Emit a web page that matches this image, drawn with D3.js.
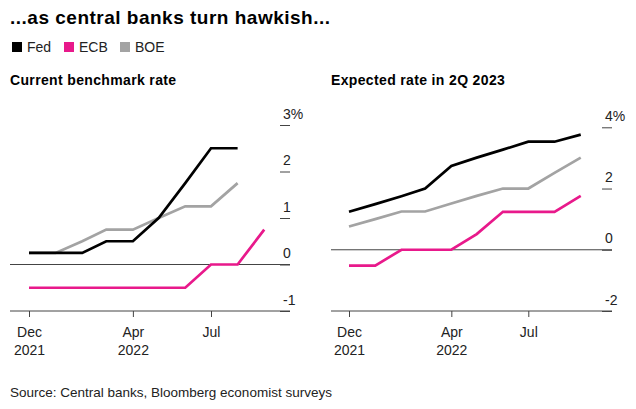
<!DOCTYPE html>
<html>
<head>
<meta charset="utf-8">
<script src="https://cdn.jsdelivr.net/npm/d3@7"></script>
<style>
  body { margin: 0; background: #fff; }
  svg { display: block; font-family: "Liberation Sans", Arial, Helvetica, sans-serif; }
  .axis text { font-size: 14px; fill: #222; }
  .axis line { stroke: #444; }
</style>
</head>
<body>
<svg id="chart" width="636" height="409"></svg>
<script>
// months Dec 2021 .. Sep 2022
var months = ['2021-12', '2022-01', '2022-02', '2022-03', '2022-04', '2022-05', '2022-06', '2022-07', '2022-08', '2022-09'];

var currentFed = [0.25, 0.25, 0.25, 0.5, 0.5, 1.0, 1.75, 2.5, 2.5];
var currentEcb = [-0.5, -0.5, -0.5, -0.5, -0.5, -0.5, -0.5, 0, 0, 0.75];
var currentBoe = [0.25, 0.25, 0.5, 0.75, 0.75, 1.0, 1.25, 1.25, 1.75];

var expectedFed = [1.24, 1.49, 1.75, 2.0, 2.74, 3.01, 3.27, 3.53, 3.53, 3.76];
var expectedEcb = [-0.52, -0.52, 0, 0, 0, 0.51, 1.24, 1.24, 1.24, 1.76];
var expectedBoe = [0.76, 1.0, 1.25, 1.25, 1.51, 1.76, 2.0, 2.0, 2.51, 3.01];

var xTicks = ['2021-12', '2022-04', '2022-07'];
var xTickLabels = [['Dec', '2021'], ['Apr', '2022'], ['Jul']];

var currentTicks = [3, 2, 1, 0, -1];
var currentTickLabels = ['3%', '2', '1', '0', '-1'];
var expectedTicks = [4, 2, 0, -2];
var expectedTickLabels = ['4%', '2', '0', '-2'];

var seriesNames = ['Fed', 'ECB', 'BOE'];
var colors = {Fed: '#000000', ECB: '#e8198b', BOE: '#a3a3a3'};

var parse = d3.timeParse('%Y-%m');
var svg = d3.select('#chart');

svg.append('text')
	.text('...as central banks turn hawkish...')
	.attr('x', 10)
	.attr('y', 24)
	.style('font-size', '19px')
	.style('font-weight', 700)
	.style('letter-spacing', '0.5px');

// legend
var lx = [12, 64, 120];
seriesNames.forEach(function(name, i) {
	svg.append('rect')
		.attr('x', lx[i])
		.attr('y', 42)
		.attr('width', 10)
		.attr('height', 10)
		.attr('fill', colors[name]);
	svg.append('text')
		.text(name)
		.attr('x', lx[i] + 15)
		.attr('y', 52)
		.style('font-size', '14px')
		.style('fill', '#222');
});

var makePanel = function(opts) {
	var g = svg.append('g');

	g.append('text')
		.text(opts.title)
		.attr('x', opts.left)
		.attr('y', 85)
		.style('font-size', '14px')
		.style('font-weight', 700)
		.style('letter-spacing', '0.35px');

	var xScale = d3.scaleTime()
		.domain([parse('2021-12'), parse('2022-07')])
		.range([opts.xDec, opts.xJul]);

	var yScale = d3.scaleLinear()
		.domain(opts.yDomain)
		.range([311, opts.yTop]);

	// y axis on the right, labels sitting above the ticks
	var yAxis = d3.axisRight(yScale)
		.tickValues(opts.yTicks)
		.tickSize(-10)
		.tickFormat(function(d, i) { return opts.yLabels[i]; });

	var ya = g.append('g')
		.attr('class', 'axis')
		.attr('transform', `translate(${opts.right}, 0)`)
		.call(yAxis);
	ya.select('.domain').remove();
	ya.selectAll('text')
		.attr('x', -7)
		.attr('dy', -7)
		.style('text-anchor', 'start');

	// zero line
	g.append('line')
		.attr('x1', opts.left)
		.attr('x2', opts.right)
		.attr('y1', yScale(0))
		.attr('y2', yScale(0))
		.attr('stroke', '#444')
		.attr('stroke-width', 1);

	// bottom axis
	var xAxis = d3.axisBottom(xScale)
		.tickValues(xTicks.map(parse))
		.tickSize(6)
		.tickFormat('');

	var xa = g.append('g')
		.attr('class', 'axis')
		.attr('transform', `translate(0, ${yScale(opts.yDomain[0])})`)
		.call(xAxis);
	xa.select('.domain').remove();
	xa.append('line')
		.attr('x1', opts.left)
		.attr('x2', opts.right)
		.attr('stroke', '#444');
	xa.selectAll('.tick').each(function(d, i) {
		var t = d3.select(this).append('text')
			.attr('y', 26)
			.style('text-anchor', 'middle');
		xTickLabels[i].forEach(function(s, j) {
			t.append('tspan')
				.attr('x', 0)
				.attr('dy', j === 0 ? 0 : 18)
				.text(s);
		});
	});

	var line = d3.line()
		.x(function(d, i) { return xScale(parse(months[i])); })
		.y(function(d) { return yScale(d); });

	// draw ECB, BOE first, Fed on top
	['ECB', 'BOE', 'Fed'].forEach(function(name) {
		g.append('path')
			.datum(opts.series[name])
			.attr('d', line)
			.attr('fill', 'none')
			.attr('stroke', colors[name])
			.attr('stroke-width', 2.7)
			.attr('stroke-linejoin', 'miter');
	});
};

makePanel({
	title: 'Current benchmark rate',
	left: 10, right: 290,
	xDec: 29, xJul: 211,
	yDomain: [-1, 3], yTop: 125,
	yTicks: currentTicks, yLabels: currentTickLabels,
	series: {Fed: currentFed, ECB: currentEcb, BOE: currentBoe}
});

makePanel({
	title: 'Expected rate in 2Q 2023',
	left: 331, right: 612,
	xDec: 349, xJul: 528.3,
	yDomain: [-2, 4], yTop: 127.3,
	yTicks: expectedTicks, yLabels: expectedTickLabels,
	series: {Fed: expectedFed, ECB: expectedEcb, BOE: expectedBoe}
});

svg.append('text')
	.text('Source: Central banks, Bloomberg economist surveys')
	.attr('x', 10)
	.attr('y', 397)
	.style('font-size', '13.5px')
	.style('fill', '#222');
</script>
</body>
</html>
